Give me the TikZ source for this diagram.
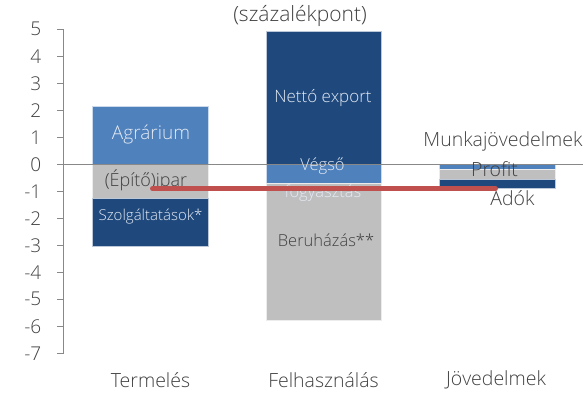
\documentclass[tikz,border=0pt]{standalone}
\usepackage{fontspec}
\IfFontExistsTF{Open Sans Light}{\setmainfont{Open Sans Light}}{\setmainfont{Open Sans}}
\definecolor{lightbar}{HTML}{4F81BD}
\definecolor{darkbar}{HTML}{1F497D}
\definecolor{graybar}{HTML}{BFBFBF}
\definecolor{axisgray}{HTML}{888888}
\definecolor{linered}{HTML}{C0504D}
\definecolor{txt}{HTML}{404040}
\definecolor{bartxt}{HTML}{E4EAF4}
\newcommand{\fsz}[1]{\fontsize{#1}{#1}\selectfont}
\tikzset{
  axisline/.style={draw=axisgray, line width=1pt},
  ticklabel/.style={anchor=east, inner sep=0pt, text=txt, font=\fsz{19}},
  catlabel/.style={inner sep=0pt, text=txt, font=\fsz{19.5}},
  inlabel/.style={inner sep=0pt, text=bartxt, font=\fsz{#1}},
  outlabel/.style={inner sep=0pt, text=txt, font=\fsz{#1}},
  barseg/.style={fill=#1, draw=white!70!#1, line width=0.6pt},
  trendline/.style={draw=linered, line width=5pt, line cap=round}
}
\begin{document}
\begin{tikzpicture}[x=1pt,y=1pt]
\useasboundingbox (0,0) rectangle (587,394);
\begin{scope}[yshift=229.7pt, y=27pt]
  % stacked bars: Termelés
  \fill[barseg=lightbar] (92.7,0) rectangle (208.3,2.13);
  \fill[barseg=graybar] (92.7,0) rectangle (208.3,-1.26);
  \fill[barseg=darkbar] (92.7,-1.26) rectangle (208.3,-3.03);
  % Felhasználás
  \fill[barseg=darkbar] (266,0) rectangle (381.7,4.91);
  \fill[barseg=lightbar] (266,0) rectangle (381.7,-0.7);
  \fill[barseg=graybar] (266,-0.7) rectangle (381.7,-5.79);
  % Jövedelmek
  \fill[barseg=lightbar] (439.3,0) rectangle (555,-0.2);
  \fill[barseg=graybar] (439.3,-0.2) rectangle (555,-0.556);
  \fill[barseg=darkbar] (439.3,-0.556) rectangle (555,-0.88);

  % value axis with ticks
  \draw[axisline] (63.5,-7) -- (63.5,5);
  \foreach \v [count=\i] in {-7,...,5} {
    \draw[axisline] (57,\v) -- (63.5,\v);
    \node[ticklabel] (tick\i) at (41.5,\v) {\v};
  }
  \draw[axisline] (63.5,0) -- (583,0);

  % labels inside and beside the bars
  \node[inlabel=19] (agr) at (151,1.085) {Agrárium};
  \node[outlabel=18] (ipar) at (146,-0.58) {(Építő)ipar};
  \node[inlabel=15] (szolg) at (150.5,-1.95) {Szolgáltatások*};
  \node[inlabel=17] (netto) at (323,2.46) {Nettó export};
  \node[inlabel=16.5, anchor=base] (vegso) at (322.5,-0.237) {Végső};
  \node[inlabel=16.5, anchor=base] (fogy) at (323,-1.222) {fogyasztás};
  \node[outlabel=16.5] (beruh) at (326,-2.8) {Beruházás**};
  \node[outlabel=19.5] (munka) at (503,0.83) {Munkajövedelmek};
  \node[outlabel=19.5] (profit) at (494.5,-0.17) {Profit};
  \node[outlabel=19.5] (adok) at (512.5,-1.25) {Adók};

  % GDP change line
  \coordinate (lineA) at (152.5,-0.9);
  \coordinate (lineB) at (495.5,-0.9);
  \draw[trendline] (lineA) -- (lineB);

  % category labels and unit
  \node[catlabel] (c1) at (150.5,-8.0) {Termelés};
  \node[catlabel] (c2) at (323.5,-8.0) {Felhasználás};
  \node[catlabel] (c3) at (496,-8.0) {Jövedelmek};
  \node[outlabel=21] (unit) at (300,5.49) {(százalékpont)};
\end{scope}
\end{tikzpicture}
\end{document}
